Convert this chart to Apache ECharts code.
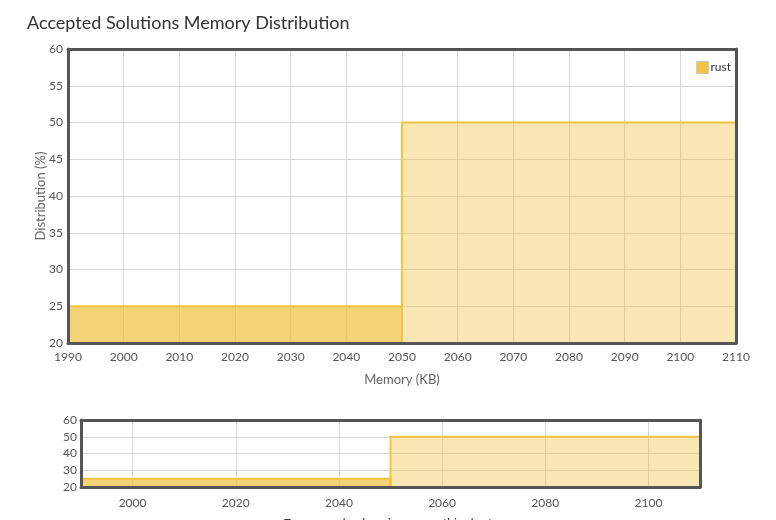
<!DOCTYPE html>
<html lang="en">

<head>
  <meta charset="UTF-8">
  <title>Accepted Solutions Memory Distribution</title>
  <style>
    html, body { margin: 0; padding: 0; background: #fff; }
    #chart { width: 776px; height: 520px; }
  </style>
</head>

<body>
  <div id="chart"></div>
  <script src="https://cdn.jsdelivr.net/npm/echarts@6/dist/echarts.min.js"></script>
  <script>
    // memory bins (KB) and share of solutions (%)
    var binStart = [1990, 2050];
    var binEnd = [2050, 2110];
    var distribution = [25, 50];
    var binFill = ['rgba(238,192,60,0.7)', 'rgba(240,195,64,0.4)'];
    var navXLabels = [2000, 2020, 2040, 2060, 2080, 2100];

    var FONT = 'Lato, "Open Sans", sans-serif';
    var LINE = '#f0c340';

    var rows = binStart.map(function (s, i) {
      return [s, binEnd[i], distribution[i], i];
    });

    function renderBin(params, api) {
      var x0 = api.value(0), x1 = api.value(1), y = api.value(2);
      var yMin = params.coordSys.y + params.coordSys.height;
      var p0 = api.coord([x0, y]);
      var p1 = api.coord([x1, y]);
      var rect = echarts.graphic.clipRectByRect({
        x: p0[0], y: p0[1], width: p1[0] - p0[0], height: yMin - p0[1]
      }, params.coordSys);
      if (!rect) return;
      return {
        type: 'rect',
        shape: rect,
        style: { fill: binFill[api.value(3)], stroke: LINE, lineWidth: 2 }
      };
    }

    // axis that only draws the dark frame edge above the series
    function frameAxis(gridIndex, position, min, max) {
      return {
        gridIndex: gridIndex, type: 'value', position: position, min: min, max: max,
        axisLine: { show: true, onZero: false, lineStyle: { color: '#555', width: 3 } },
        axisTick: { show: false }, axisLabel: { show: false }, splitLine: { show: false },
        z: 5
      };
    }

    function plain(v) { return String(v); }

    var chart = echarts.init(document.getElementById('chart'));
    chart.setOption({
      animation: false,
      title: {
        text: 'Accepted Solutions Memory Distribution',
        left: 22, top: 9,
        textStyle: { fontFamily: FONT, fontSize: 18, fontWeight: 'normal', color: '#333' }
      },
      legend: {
        data: ['rust'],
        right: 40, top: 56,
        icon: 'rect', itemWidth: 12, itemHeight: 12, itemGap: 2,
        itemStyle: { borderColor: '#c8c8c8', borderWidth: 1 },
        textStyle: { fontFamily: FONT, fontSize: 12, color: '#333', padding: [0, 0, 0, -3] }
      },
      grid: [
        { left: 68, right: 40, top: 49, height: 294 },
        { left: 81, right: 76, top: 420, height: 67 }
      ],
      xAxis: [
        {
          gridIndex: 0, type: 'value', min: 1990, max: 2110, interval: 10,
          name: 'Memory (KB)', nameLocation: 'middle', nameGap: 30,
          nameTextStyle: { fontFamily: FONT, fontSize: 13, color: '#666' },
          axisLine: { show: false },
          axisTick: { show: false },
          axisLabel: { fontFamily: FONT, fontSize: 12, color: '#555', margin: 8, formatter: plain },
          splitLine: { show: true, lineStyle: { color: '#d8d8d8' } }
        },
        frameAxis(0, 'top', 1990, 2110),
        frameAxis(0, 'bottom', 1990, 2110),
        {
          gridIndex: 1, type: 'value', min: 1990, max: 2110,
          axisLine: { show: false },
          axisTick: { show: false, customValues: navXLabels },
          axisLabel: { fontFamily: FONT, fontSize: 12, color: '#555', margin: 10, customValues: navXLabels, formatter: plain },
          splitLine: { show: true, lineStyle: { color: '#d8d8d8' } }
        },
        frameAxis(1, 'top', 1990, 2110),
        frameAxis(1, 'bottom', 1990, 2110)
      ],
      yAxis: [
        {
          gridIndex: 0, type: 'value', min: 20, max: 60, interval: 5,
          name: 'Distribution (%)', nameLocation: 'middle', nameGap: 21,
          nameMoveOverlap: false,
          nameTextStyle: { fontFamily: FONT, fontSize: 13, color: '#666' },
          axisLine: { show: false },
          axisTick: { show: false },
          axisLabel: { fontFamily: FONT, fontSize: 12, color: '#555', margin: 5 },
          splitLine: { show: true, lineStyle: { color: '#d8d8d8' } }
        },
        frameAxis(0, 'left', 20, 60),
        frameAxis(0, 'right', 20, 60),
        {
          gridIndex: 1, type: 'value', min: 20, max: 60, interval: 10,
          axisLine: { show: false },
          axisTick: { show: false },
          axisLabel: { fontFamily: FONT, fontSize: 12, color: '#555', margin: 4 },
          splitLine: { show: true, lineStyle: { color: '#d8d8d8' } }
        },
        frameAxis(1, 'left', 20, 60),
        frameAxis(1, 'right', 20, 60)
      ],
      series: [
        {
          name: 'rust', type: 'custom', xAxisIndex: 0, yAxisIndex: 0,
          itemStyle: { color: LINE },
          renderItem: renderBin, data: rows
        },
        {
          name: 'rust-nav', type: 'custom', xAxisIndex: 3, yAxisIndex: 3,
          itemStyle: { color: LINE },
          renderItem: renderBin, data: rows
        }
      ],
      graphic: [{
        type: 'text', left: 'center', top: 517,
        style: {
          text: 'Zoom area by dragging across this chart',
          fontFamily: FONT, fontSize: 12, fill: '#333'
        }
      }]
    });
  </script>
</body>

</html>
